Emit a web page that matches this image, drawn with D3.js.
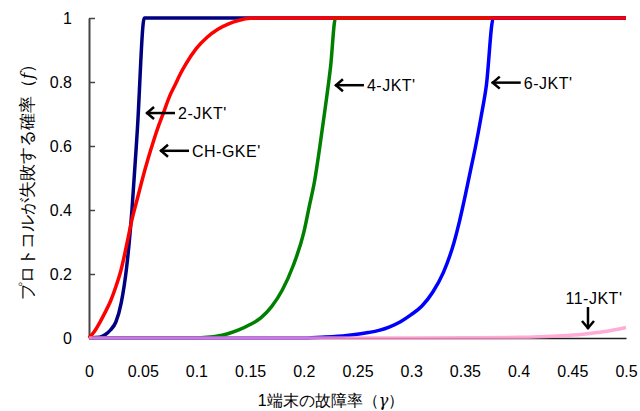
<!DOCTYPE html>
<html>
<head>
<meta charset="utf-8">
<script src="https://cdn.jsdelivr.net/npm/d3@7"></script>
<style>
  html, body { margin: 0; padding: 0; background: #fff; }
  svg { display: block; }
  text { font-family: "Liberation Sans", Arial, sans-serif; }
</style>
</head>
<body>
<svg id="chart" width="640" height="411"></svg>
<script>
// ---------------- data ----------------
const xTicks = [0, 0.05, 0.1, 0.15, 0.2, 0.25, 0.3, 0.35, 0.4, 0.45, 0.5];
const yTicks = [0, 0.2, 0.4, 0.6, 0.8, 1];

const jkt2X = [0, 0.01, 0.015, 0.02, 0.025, 0.03, 0.035, 0.04, 0.045, 0.0515, 0.5];
const jkt2Y = [0, 0.002, 0.01, 0.025, 0.05, 0.11, 0.22, 0.40, 0.65, 1, 1];

const chX = [0, 0.005, 0.01, 0.015, 0.02, 0.025, 0.03, 0.035, 0.04, 0.045, 0.05, 0.055, 0.06, 0.065, 0.07, 0.075, 0.08, 0.085, 0.09, 0.1, 0.11, 0.12, 0.13, 0.14, 0.15, 0.16, 0.5];
const chY = [0, 0.02, 0.048, 0.08, 0.115, 0.16, 0.215, 0.29, 0.37, 0.435, 0.50, 0.56, 0.615, 0.665, 0.71, 0.755, 0.79, 0.825, 0.855, 0.905, 0.94, 0.965, 0.982, 0.993, 0.999, 1, 1];

const jkt4X = [0, 0.1, 0.11, 0.12, 0.13, 0.14, 0.15, 0.16, 0.17, 0.18, 0.19, 0.2, 0.205, 0.21, 0.215, 0.22, 0.225, 0.2295, 0.5];
const jkt4Y = [0, 0, 0.002, 0.006, 0.014, 0.026, 0.042, 0.063, 0.098, 0.15, 0.225, 0.33, 0.41, 0.49, 0.60, 0.72, 0.85, 1, 1];

const jkt6X = [0, 0.2, 0.22, 0.24, 0.26, 0.27, 0.28, 0.29, 0.3, 0.31, 0.32, 0.33, 0.34, 0.345, 0.35, 0.355, 0.36, 0.365, 0.37, 0.3765, 0.5];
const jkt6Y = [0, 0, 0.003, 0.008, 0.017, 0.024, 0.035, 0.051, 0.073, 0.10, 0.143, 0.205, 0.30, 0.365, 0.44, 0.52, 0.60, 0.69, 0.79, 1, 1];

const jkt11X = [0, 0.3, 0.35, 0.4, 0.42, 0.44, 0.46, 0.48, 0.5];
const jkt11Y = [0, 0, 0.0005, 0.002, 0.004, 0.007, 0.012, 0.02, 0.033];

// annotation labels: arrow tip in data units
const annLabels = ["2-JKT'", "CH-GKE'", "4-JKT'", "6-JKT'", "11-JKT'"];
const annX = [0.0531, 0.0661, 0.229, 0.375, 0.4646];
const annY = [0.703, 0.585, 0.79, 0.798, 0.028];
const annDir = ["left", "left", "left", "left", "down"];

// ---------------- chart ----------------
const svg = d3.select("#chart");
const x = d3.scaleLinear().domain([0, 0.5]).range([89, 626]);
const y = d3.scaleLinear().domain([0, 1]).range([338, 18]);

// x axis (line only)
const xAxis = svg.append("g").attr("transform", `translate(0,${y(0)})`)
  .call(d3.axisBottom(x).tickValues(xTicks).tickSize(0).tickPadding(28)
    .tickFormat(d => d3.format("")(+d.toFixed(2))));
xAxis.select(".domain").attr("stroke", "#222").attr("stroke-width", 1.5);
xAxis.selectAll("text").attr("font-size", 16).attr("fill", "#000");

// y axis with inward ticks
const yAxis = svg.append("g").attr("transform", `translate(${x(0)},0)`)
  .call(d3.axisRight(y).tickValues(yTicks).tickSize(6).tickSizeOuter(0)
    .tickFormat(d => d3.format("")(+d.toFixed(1))));
yAxis.select(".domain").attr("stroke", "#444").attr("stroke-width", 2);
yAxis.selectAll(".tick line").attr("stroke", "#444").attr("stroke-width", 1.5);
yAxis.selectAll("text").attr("font-size", 16).attr("fill", "#000")
  .attr("text-anchor", "end").attr("x", -17);

// series
const series = [
  { xs: jkt2X, ys: jkt2Y, color: "#000080", op: 1 },
  { xs: jkt4X, ys: jkt4Y, color: "#008000", op: 1 },
  { xs: jkt6X, ys: jkt6Y, color: "#0000ff", op: 1 },
  { xs: chX, ys: chY, color: "#ff0000", op: 1 },
  { xs: jkt11X, ys: jkt11Y, color: "#ff99cc", op: 0.8 }
];
const line = d3.line().x(d => x(d[0])).y(d => y(d[1])).curve(d3.curveMonotoneX);
series.forEach(s => {
  svg.append("path")
    .datum(s.xs.map((v, i) => [v, s.ys[i]]))
    .attr("d", line)
    .attr("fill", "none")
    .attr("stroke", s.color)
    .attr("stroke-opacity", s.op)
    .attr("stroke-width", 3.5)
    .attr("stroke-linejoin", "round");
});

// annotations
const ann = svg.append("g");
annLabels.forEach((lab, i) => {
  const px = x(annX[i]), py = y(annY[i]);
  if (annDir[i] === "left") {
    const len = 29;
    ann.append("line").attr("x1", px).attr("y1", py).attr("x2", px + len).attr("y2", py)
      .attr("stroke", "#000").attr("stroke-width", 2.5);
    ann.append("polyline")
      .attr("points", `${px + 8},${py - 6} ${px + 1},${py} ${px + 8},${py + 6}`)
      .attr("fill", "none").attr("stroke", "#000").attr("stroke-width", 2.5);
    ann.append("text").attr("x", px + len + 3).attr("y", py + 6)
      .attr("font-size", 16).attr("letter-spacing", 0.5).attr("fill", "#000").text(lab);
  } else {
    const len = 22;
    ann.append("line").attr("x1", px).attr("y1", py).attr("x2", px).attr("y2", py - len)
      .attr("stroke", "#000").attr("stroke-width", 2.5);
    ann.append("polyline")
      .attr("points", `${px - 6},${py - 8} ${px},${py - 1} ${px + 6},${py - 8}`)
      .attr("fill", "none").attr("stroke", "#000").attr("stroke-width", 2.5);
    ann.append("text").attr("x", px + 6).attr("y", py - len - 3)
      .attr("text-anchor", "middle")
      .attr("font-size", 16).attr("letter-spacing", 0.5).attr("fill", "#000").text(lab);
  }
});

// axis titles
const yt = svg.append("text")
  .attr("transform", `translate(33,${(y(0) + y(1)) / 2}) rotate(-90)`)
  .attr("text-anchor", "middle")
  .attr("font-family", "'Noto Sans CJK JP', sans-serif")
  .attr("font-weight", 500)
  .attr("font-size", 16.5).attr("fill", "#000");
yt.append("tspan").text("プロトコルが失敗する確率（");
yt.append("tspan").attr("font-family", "'DejaVu Serif', serif").attr("font-style", "italic").attr("font-weight", "normal").text("f");
yt.append("tspan").text("）");

const xt = svg.append("text")
  .attr("x", 331).attr("y", 406)
  .attr("text-anchor", "middle")
  .attr("font-family", "'Noto Sans CJK JP', sans-serif")
  .attr("font-weight", 500)
  .attr("font-size", 16).attr("fill", "#000");
xt.append("tspan").text("1端末の故障率（");
xt.append("tspan").attr("font-family", "'DejaVu Serif', serif").attr("font-style", "italic").attr("font-weight", "normal").text("γ");
xt.append("tspan").text("）");
</script>
</body>
</html>
